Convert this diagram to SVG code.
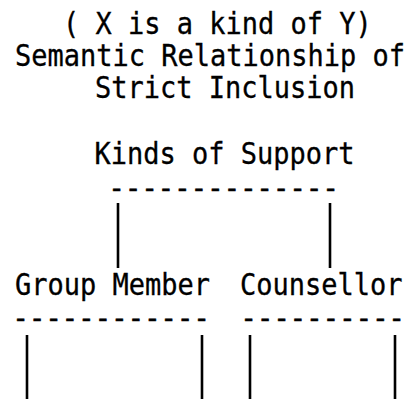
<svg xmlns="http://www.w3.org/2000/svg" width="418" height="399" viewBox="0 0 418 399">
<style>
  text { font-family: "DejaVu Sans Mono", "Liberation Mono", monospace; font-size: 27px; fill: #000; stroke: #000; stroke-width: 0.3; white-space: pre; }
  .dash { letter-spacing: 0.2px; stroke-width: 0.6; }
  .bar { stroke: #000; stroke-width: 2.6; fill: none; }
</style>
<rect width="418" height="399" fill="#fff"/>
<g id="title">
  <text transform="translate(63,34) scale(1,1.09)">( X is a kind of Y)</text>
  <text transform="translate(15,66) scale(1,1.09)">Semantic Relationship of</text>
  <text transform="translate(95,98) scale(1,1.09)">Strict Inclusion</text>
</g>
<g id="kinds-of-support">
  <text transform="translate(94.5,164) scale(1,1.09)">Kinds of Support</text>
  <text class="dash" x="108.5" y="197">--------------</text>
</g>
<g id="group-member">
  <text transform="translate(15,295) scale(1,1.09)">Group Member</text>
  <text class="dash" x="12.5" y="327">------------</text>
</g>
<g id="counsellor">
  <text transform="translate(240,295) scale(1,1.09)">Counsellor</text>
  <text class="dash" x="240.5" y="327">----------</text>
</g>
<g id="connectors">
  <line class="bar" x1="118" y1="203" x2="118" y2="268"/>
  <line class="bar" x1="330" y1="203" x2="330" y2="268"/>
  <line class="bar" x1="27" y1="335" x2="27" y2="399"/>
  <line class="bar" x1="202" y1="335" x2="202" y2="399"/>
  <line class="bar" x1="250" y1="335" x2="250" y2="399"/>
  <line class="bar" x1="395" y1="335" x2="395" y2="399"/>
</g>
</svg>
